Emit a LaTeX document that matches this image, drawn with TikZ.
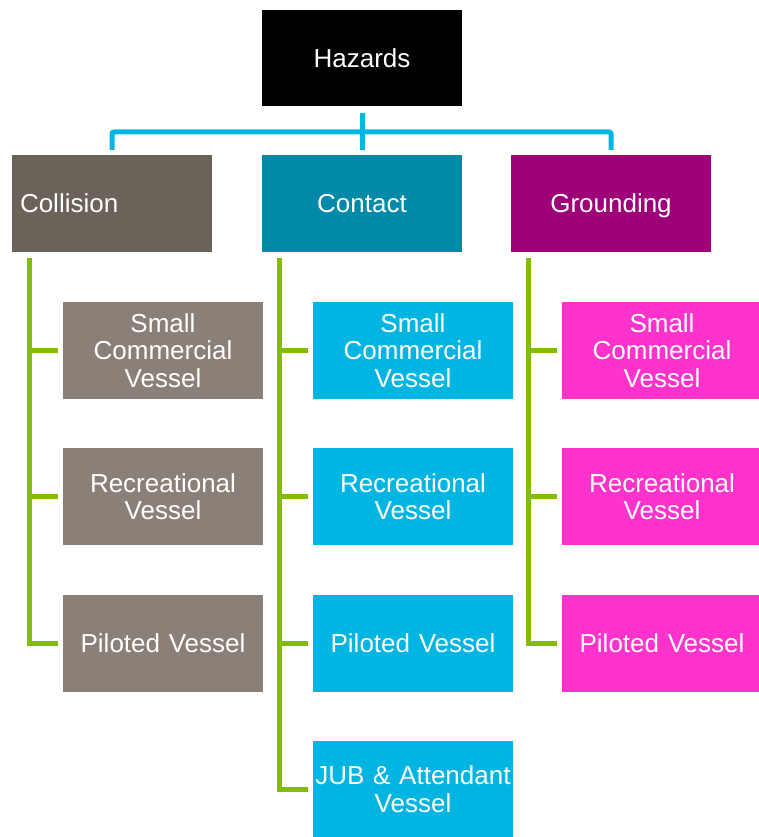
\documentclass[tikz,border=0pt]{standalone}
\usepackage{fontspec}
\setmainfont{Liberation Sans}
\usetikzlibrary{calc}
\definecolor{collisionc}{HTML}{6B625A}
\definecolor{contactc}{HTML}{0089A8}
\definecolor{groundingc}{HTML}{9E007A}
\definecolor{graychild}{HTML}{8B8078}
\definecolor{cyanchild}{HTML}{00B5E2}
\definecolor{magchild}{HTML}{FF33CC}
\definecolor{cyanline}{HTML}{00B5E2}
\definecolor{greenline}{HTML}{84BD00}
\begin{document}
\begin{tikzpicture}[x=1pt,y=-1pt,
  box/.style={minimum width=200pt, minimum height=97pt, inner sep=0pt, text=white,
    font=\fontsize{26}{27.5}\selectfont, align=center, text width=198pt},
  head/.style={box, text depth=0pt},
  cline/.style={draw=cyanline, line width=5pt, rounded corners=2pt},
  gline/.style={draw=greenline, line width=5pt}]
\useasboundingbox (0,0) rectangle (758,837);
% top
\node[head, fill=black, minimum height=96pt] (haz) at (362,58) {Hazards};
\node[head, fill=collisionc, align=left, text width=184pt] (col) at (112,203.5) {Collision};
\node[head, fill=contactc] (con) at (362,203.5) {Contact};
\node[head, fill=groundingc] (gro) at (611,203.5) {Grounding};
% collision children
\node[box, fill=graychild] (c1) at (163,350.5) {Small\\Commercial\\Vessel};
\node[box, fill=graychild] (c2) at (163,496.5) {Recreational\\Vessel};
\node[box, fill=graychild] (c3) at (163,643) {Piloted Vessel};
% contact children
\node[box, fill=cyanchild] (t1) at (413,350.5) {Small\\Commercial\\Vessel};
\node[box, fill=cyanchild] (t2) at (413,496.5) {Recreational\\Vessel};
\node[box, fill=cyanchild] (t3) at (413,643) {Piloted Vessel};
\node[box, fill=cyanchild] (t4) at (413,789) {JUB \& Attendant\\Vessel};
% grounding children
\node[box, fill=magchild] (g1) at (662,350.5) {Small\\Commercial\\Vessel};
\node[box, fill=magchild] (g2) at (662,496.5) {Recreational\\Vessel};
\node[box, fill=magchild] (g3) at (662,643) {Piloted Vessel};
% cyan connectors
\coordinate (hub) at (362,132);
\draw[cline] ($(col.north)+(0,-5)$) |- (hub) -| ($(gro.north)+(0,-5)$);
\draw[cline] ($(haz.south)+(0,7)$) -- ($(con.north)+(0,-5)$);
% green connectors
\coordinate (colt) at ($(col.south west)+(18,6)$);
\coordinate (cont) at ($(con.south west)+(18,6)$);
\coordinate (grot) at ($(gro.south west)+(18,6)$);
\foreach \p/\a/\b/\c in {colt/c1/c2/c3, grot/g1/g2/g3}{
  \draw[gline] (\p) |- ($(\c.west)+(-5,0)$);
  \draw[gline] (\p |- \a.west) -- ($(\a.west)+(-5,0)$);
  \draw[gline] (\p |- \b.west) -- ($(\b.west)+(-5,0)$);
}
\draw[gline] (cont) |- ($(t4.west)+(-5,0)$);
\foreach \a in {t1,t2,t3}{
  \draw[gline] (cont |- \a.west) -- ($(\a.west)+(-5,0)$);
}
\end{tikzpicture}
\end{document}
